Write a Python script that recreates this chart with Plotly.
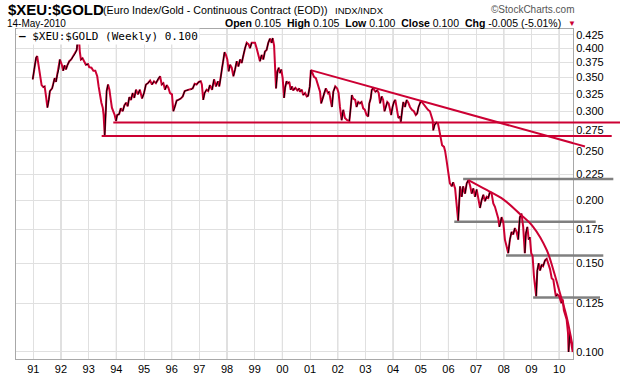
import plotly.graph_objects as go

# ---------------- data ----------------
dates = [
    1990.98, 1991.03, 1991.10, 1991.14, 1991.20, 1991.24, 1991.30, 1991.36, 1991.41, 1991.46,
    1991.51, 1991.56, 1991.60, 1991.68, 1991.72, 1991.77, 1991.82, 1991.87, 1991.92, 1991.96,
    1992.03, 1992.08, 1992.13, 1992.18, 1992.23, 1992.30, 1992.37, 1992.45, 1992.51, 1992.57,
    1992.61, 1992.64, 1992.68, 1992.72, 1992.78, 1992.83, 1992.90, 1992.98, 1993.02, 1993.10,
    1993.17, 1993.24, 1993.31, 1993.36, 1993.41, 1993.46, 1993.51, 1993.54, 1993.58, 1993.62,
    1993.65, 1993.70, 1993.75, 1993.80, 1993.84, 1993.89, 1993.94, 1993.99, 1994.03, 1994.10,
    1994.16, 1994.23, 1994.29, 1994.35, 1994.41, 1994.47, 1994.53, 1994.59, 1994.65, 1994.71,
    1994.78, 1994.85, 1994.93, 1995.00, 1995.07, 1995.14, 1995.22, 1995.29, 1995.36, 1995.43,
    1995.51, 1995.58, 1995.64, 1995.70, 1995.76, 1995.82, 1995.88, 1995.94, 1996.01, 1996.06,
    1996.12, 1996.18, 1996.24, 1996.33, 1996.40, 1996.47, 1996.54, 1996.61, 1996.69, 1996.76,
    1996.83, 1996.90, 1996.98, 1997.05, 1997.09, 1997.14, 1997.19, 1997.26, 1997.32, 1997.38,
    1997.46, 1997.53, 1997.60, 1997.67, 1997.72, 1997.77, 1997.82, 1997.86, 1997.91, 1997.96,
    1998.01, 1998.06, 1998.11, 1998.17, 1998.23, 1998.29, 1998.35, 1998.41, 1998.47, 1998.53,
    1998.59, 1998.65, 1998.71, 1998.78, 1998.83, 1998.89, 1998.95, 1999.01, 1999.07, 1999.13,
    1999.19, 1999.25, 1999.31, 1999.37, 1999.43, 1999.49, 1999.55, 1999.61, 1999.65, 1999.70,
    1999.73, 1999.77, 1999.82, 1999.87, 1999.91, 1999.96, 2000.01, 2000.06, 2000.10, 2000.15,
    2000.20, 2000.25, 2000.30, 2000.35, 2000.39, 2000.47, 2000.54, 2000.61, 2000.63, 2000.70,
    2000.75, 2000.82, 2000.88, 2000.93, 2000.99, 2001.03, 2001.09, 2001.14, 2001.21, 2001.30,
    2001.36, 2001.40, 2001.46, 2001.51, 2001.57, 2001.65, 2001.69, 2001.74, 2001.79, 2001.84,
    2001.91, 2001.98, 2002.03, 2002.08, 2002.14, 2002.20, 2002.26, 2002.34, 2002.42, 2002.47,
    2002.51, 2002.56, 2002.63, 2002.68, 2002.74, 2002.80, 2002.86, 2002.92, 2002.98, 2003.04,
    2003.10, 2003.14, 2003.19, 2003.23, 2003.28, 2003.36, 2003.43, 2003.48, 2003.53, 2003.59,
    2003.64, 2003.69, 2003.74, 2003.79, 2003.84, 2003.89, 2003.93, 2003.98, 2004.03, 2004.08,
    2004.13, 2004.19, 2004.25, 2004.28, 2004.33, 2004.37, 2004.43, 2004.49, 2004.55, 2004.61,
    2004.68, 2004.75, 2004.82, 2004.87, 2004.92, 2004.99, 2005.04, 2005.11, 2005.19, 2005.26,
    2005.33, 2005.38, 2005.43, 2005.45, 2005.50, 2005.57, 2005.62, 2005.67, 2005.72, 2005.77,
    2005.84, 2005.88, 2005.93, 2005.97, 2006.00, 2006.05, 2006.12, 2006.17, 2006.24, 2006.30,
    2006.35, 2006.42, 2006.48, 2006.53, 2006.60, 2006.66, 2006.72, 2006.78, 2006.84, 2006.90,
    2006.96, 2007.02, 2007.08, 2007.14, 2007.20, 2007.26, 2007.32, 2007.38, 2007.44, 2007.50,
    2007.56, 2007.62, 2007.68, 2007.74, 2007.80, 2007.84, 2007.89, 2007.92, 2007.98, 2008.04,
    2008.10, 2008.16, 2008.22, 2008.28, 2008.34, 2008.40, 2008.46, 2008.52, 2008.58, 2008.64,
    2008.70, 2008.76, 2008.80, 2008.85, 2008.90, 2008.94, 2008.99, 2009.04, 2009.09, 2009.14,
    2009.17, 2009.21, 2009.26, 2009.31, 2009.37, 2009.42, 2009.49, 2009.55, 2009.61, 2009.67,
    2009.73, 2009.79, 2009.85, 2009.88, 2009.93, 2010.00, 2010.08, 2010.13, 2010.17, 2010.22,
    2010.27, 2010.32, 2010.34, 2010.38, 2010.43, 2010.49,
]
values = [
    0.347, 0.363, 0.383, 0.386, 0.368, 0.355, 0.338, 0.335, 0.336, 0.321,
    0.305, 0.316, 0.329, 0.333, 0.339, 0.349, 0.343, 0.355, 0.363, 0.380,
    0.371, 0.361, 0.370, 0.363, 0.370, 0.377, 0.380, 0.386, 0.390, 0.397,
    0.419, 0.429, 0.394, 0.380, 0.382, 0.376, 0.371, 0.372, 0.367, 0.366,
    0.361, 0.361, 0.352, 0.336, 0.321, 0.312, 0.305, 0.295, 0.269, 0.298,
    0.329, 0.339, 0.331, 0.316, 0.305, 0.300, 0.295, 0.287, 0.295, 0.296,
    0.304, 0.300, 0.308, 0.312, 0.307, 0.320, 0.316, 0.326, 0.319, 0.331,
    0.324, 0.331, 0.318, 0.326, 0.339, 0.341, 0.345, 0.339, 0.344, 0.341,
    0.348, 0.352, 0.339, 0.341, 0.331, 0.338, 0.334, 0.326, 0.324, 0.300,
    0.307, 0.315, 0.316, 0.318, 0.321, 0.329, 0.330, 0.331, 0.331, 0.333,
    0.340, 0.339, 0.343, 0.344, 0.339, 0.316, 0.326, 0.331, 0.329, 0.338,
    0.331, 0.347, 0.336, 0.344, 0.336, 0.349, 0.366, 0.377, 0.393, 0.388,
    0.380, 0.360, 0.371, 0.366, 0.352, 0.363, 0.377, 0.368, 0.380, 0.374,
    0.388, 0.400, 0.410, 0.407, 0.400, 0.410, 0.410, 0.410, 0.400, 0.386,
    0.377, 0.388, 0.380, 0.394, 0.397, 0.410, 0.418, 0.410, 0.419, 0.405,
    0.360, 0.333, 0.360, 0.366, 0.357, 0.363, 0.349, 0.319, 0.334, 0.344,
    0.341, 0.343, 0.331, 0.336, 0.330, 0.334, 0.330, 0.333, 0.328, 0.331,
    0.323, 0.326, 0.321, 0.322, 0.336, 0.362, 0.357, 0.351, 0.349, 0.338,
    0.328, 0.311, 0.318, 0.326, 0.333, 0.326, 0.328, 0.316, 0.306, 0.328,
    0.336, 0.333, 0.326, 0.306, 0.288, 0.302, 0.291, 0.288, 0.287, 0.306,
    0.323, 0.318, 0.316, 0.306, 0.313, 0.311, 0.313, 0.304, 0.302, 0.295,
    0.293, 0.311, 0.318, 0.331, 0.333, 0.328, 0.330, 0.326, 0.311, 0.321,
    0.316, 0.300, 0.306, 0.313, 0.311, 0.302, 0.295, 0.306, 0.313, 0.316,
    0.302, 0.291, 0.293, 0.286, 0.302, 0.313, 0.306, 0.316, 0.312, 0.306,
    0.302, 0.300, 0.295, 0.297, 0.306, 0.313, 0.313, 0.309, 0.306, 0.302,
    0.300, 0.293, 0.288, 0.275, 0.282, 0.285, 0.284, 0.275, 0.267, 0.257,
    0.255, 0.250, 0.240, 0.231, 0.223, 0.216, 0.213, 0.217, 0.211, 0.196,
    0.182, 0.213, 0.203, 0.213, 0.206, 0.216, 0.219, 0.214, 0.206, 0.211,
    0.203, 0.210, 0.200, 0.193, 0.200, 0.205, 0.199, 0.203, 0.202, 0.208,
    0.206, 0.197, 0.194, 0.188, 0.184, 0.177, 0.181, 0.185, 0.181, 0.167,
    0.162, 0.157, 0.167, 0.173, 0.171, 0.176, 0.173, 0.167, 0.185, 0.188,
    0.177, 0.157, 0.172, 0.177, 0.167, 0.169, 0.157, 0.155, 0.141, 0.135,
    0.129, 0.145, 0.150, 0.145, 0.149, 0.148, 0.152, 0.153, 0.150, 0.146,
    0.140, 0.139, 0.132, 0.129, 0.130, 0.129, 0.125, 0.127, 0.121, 0.119,
    0.116, 0.109, 0.100, 0.109, 0.105, 0.100,
]

# drawn support / resistance levels
red_levels = [0.285, 0.268]
red_starts = [1993.89, 1993.47]
red_ends_paper = [1.085, 1.0695]
trend_x = [2001.02, 2010.93]
trend_y = [0.362, 0.2555]
trend_edge_y = 0.2594
grey_levels = [0.2202, 0.1812, 0.1553, 0.1282]
grey_starts = [2006.53, 2006.21, 2008.08, 2009.06]
grey_ends_paper = [1.0724, 1.0407, 1.0544, 1.0485]
arc_x = [2006.72, 2007.38, 2007.98, 2008.58, 2009.06, 2009.55, 2009.79, 2010.03, 2010.27, 2010.51]
arc_y = [0.2192, 0.2095, 0.2007, 0.1878, 0.1771, 0.1593, 0.1454, 0.1307, 0.1175, 0.1009]

year_ticks = list(range(1991, 2011))
year_labels = ["91", "92", "93", "94", "95", "96", "97", "98", "99", "00",
               "01", "02", "03", "04", "05", "06", "07", "08", "09", "10"]
y_ticks = [0.100, 0.125, 0.150, 0.175, 0.200, 0.225, 0.250, 0.275, 0.300,
           0.325, 0.350, 0.375, 0.400, 0.425]
y_labels = ["%.3f" % v for v in y_ticks]

RED = "#CC0033"
GREY = "#808080"
X_RANGE = [1990.375, 2010.50]
Y_RANGE = [-1.0139, -0.3598]

W, H = 620, 376
L, R, T, B = 16, 47, 29, 17
PW, PH = W - L - R, H - T - B


def px(x):
    return (x - L) / PW


def py(y):
    return (H - B - y) / PH


fig = go.Figure()

# support lines (inside plot)
for lvl, st in zip(red_levels, red_starts):
    fig.add_trace(go.Scatter(x=[st, X_RANGE[1]], y=[lvl, lvl], mode="lines",
                             line=dict(color=RED, width=2), hoverinfo="skip"))
fig.add_trace(go.Scatter(x=trend_x, y=trend_y, mode="lines",
                         line=dict(color=RED, width=2), hoverinfo="skip"))
for lvl, st in zip(grey_levels, grey_starts):
    fig.add_trace(go.Scatter(x=[st, X_RANGE[1]], y=[lvl, lvl], mode="lines",
                             line=dict(color=GREY, width=2.5), hoverinfo="skip"))

# price line: red, with black strokes on rising weeks
fig.add_trace(go.Scatter(x=dates, y=values, mode="lines",
                         line=dict(color=RED, width=2), hoverinfo="skip"))
bx, by = [], []
for i in range(1, len(values)):
    if values[i] > values[i - 1]:
        bx += [dates[i - 1], dates[i], None]
        by += [values[i - 1], values[i], None]
fig.add_trace(go.Scatter(x=bx, y=by, mode="lines", connectgaps=False,
                         line=dict(color="#000000", width=1), hoverinfo="skip"))

fig.add_trace(go.Scatter(x=arc_x, y=arc_y, mode="lines",
                         line=dict(color=RED, width=2, shape="spline"), hoverinfo="skip"))

shapes = []
# darker gridlines on even years
for yr in year_ticks:
    if yr % 2 == 0:
        shapes.append(dict(type="line", xref="x", yref="paper", x0=yr, x1=yr, y0=0, y1=1,
                           line=dict(color="#BDBDBD", width=1), layer="below"))
# extensions of the drawn lines into the price-scale area
for lvl, e in zip(red_levels, red_ends_paper):
    shapes.append(dict(type="line", xref="paper", yref="y", x0=1.0, x1=e, y0=lvl, y1=lvl,
                       line=dict(color=RED, width=2)))
shapes.append(dict(type="line", xref="paper", yref="y", x0=1.0, x1=1.0215,
                   y0=trend_edge_y, y1=trend_y[1], line=dict(color=RED, width=2)))
for lvl, e in zip(grey_levels, grey_ends_paper):
    shapes.append(dict(type="line", xref="paper", yref="y", x0=1.0, x1=e, y0=lvl, y1=lvl,
                       line=dict(color=GREY, width=2.5)))

SANS = "Liberation Sans, Arial"
ann = []
ann.append(dict(text="<b>$XEU:$GOLD</b>", x=px(6), y=py(10), font=dict(family=SANS, size=15, color="#000")))
ann.append(dict(text="(Euro Index/Gold - Continuous Contract (EOD))", x=px(101), y=py(10.5),
                font=dict(family=SANS, size=10.7, color="#000")))
ann.append(dict(text="INDX/INDX", x=px(333), y=py(10.5), font=dict(family=SANS, size=9.5, color="#000")))
ann.append(dict(text="©StockCharts.com", x=px(577), y=py(10), xanchor="right",
                font=dict(family=SANS, size=10, color="#555")))
ann.append(dict(text="14-May-2010", x=px(5), y=py(23), font=dict(family=SANS, size=10, color="#000")))
ann.append(dict(text="<b>Open</b> 0.105  <b>High</b> 0.105  <b>Low</b> 0.100  <b>Close</b> 0.100  <b>Chg</b> -0.005 (-5.01%)",
                x=px(563), y=py(23), xanchor="right", font=dict(family=SANS, size=10.5, color="#000")))
ann.append(dict(text="▼", x=px(566), y=py(23), font=dict(family=SANS, size=8, color=RED)))
ann.append(dict(text="<b>—</b> $XEU:$GOLD (Weekly) 0.100", x=px(17), y=py(36.5),
                font=dict(family="DejaVu Sans Mono, monospace", size=11, color="#000"),
                bgcolor="#FFFFFF", borderpad=1))
for a in ann:
    a.setdefault("xanchor", "left")
    a.update(xref="paper", yref="paper", yanchor="middle", showarrow=False)

fig.update_layout(
    width=W, height=H,
    margin=dict(l=L, r=R, t=T, b=B, autoexpand=False),
    paper_bgcolor="#FFFFFF", plot_bgcolor="#FFFFFF",
    showlegend=False,
    shapes=shapes, annotations=ann,
    xaxis=dict(range=X_RANGE, tickvals=year_ticks, ticktext=year_labels, automargin=False,
               showgrid=True, gridcolor="#E0E0E0", gridwidth=1, zeroline=False,
               showline=True, linecolor="#A8A8A8", mirror=True, ticks="",
               tickfont=dict(family=SANS, size=11, color="#000")),
    yaxis=dict(type="log", range=Y_RANGE, side="right", tickvals=y_ticks, ticktext=y_labels,
               automargin=False,
               showgrid=True, gridcolor="#E0E0E0", gridwidth=1, zeroline=False,
               showline=True, linecolor="#A8A8A8", mirror=True, ticks="",
               tickfont=dict(family=SANS, size=11, color="#000")),
)

fig.write_html("out.html", config={"displayModeBar": False},
               post_script="document.body.style.margin='0px';")
